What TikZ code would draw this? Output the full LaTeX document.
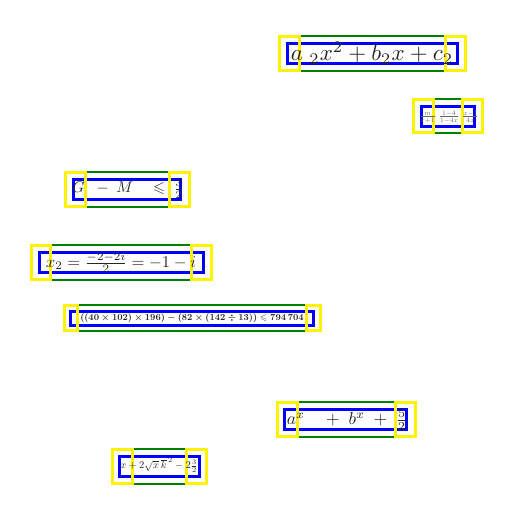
\documentclass[tikz,border=0pt]{standalone}
\usepackage{amsmath}
\usepackage{amssymb}
\tikzset{
    cajaverde/.style={draw=green!50!black,line width=2pt},
    cajaazul/.style={draw=blue,line width=2.5pt},
    cajaamarilla/.style={draw=yellow,line width=3.5pt},
    formula/.style={inner sep=0pt,text=black!85}
}
\begin{document}
\begin{tikzpicture}[x=1pt,y=-1pt]
    \useasboundingbox (0,0) rectangle (512,512);
    % Fórmula 1
    \draw[cajaverde] (299.5,36) -- (445.5,36);
    \draw[cajaverde] (299.5,71) -- (445.5,71);
    \draw[cajaazul] (287.5,43.5) rectangle (457.5,63.5);
    \draw[cajaamarilla] (279.5,36.5) rectangle (299.5,70.5);
    \draw[cajaamarilla] (445.5,36.5) rectangle (465.5,70.5);
    \node[formula,scale=2.3] (formulaA) at (372,53) {$a\;{}_2x^2+b_2x+c_2$};
    % Fórmula 2
    \draw[cajaverde] (433.5,99) -- (462.5,99);
    \draw[cajaverde] (433.5,133) -- (462.5,133);
    \draw[cajaazul] (421.5,106.5) rectangle (474.5,126.5);
    \draw[cajaamarilla] (413.5,99.5) rectangle (433.5,132.5);
    \draw[cajaamarilla] (462.5,99.5) rectangle (482.5,132.5);
    \node[formula,scale=0.95,text=black!60] (formulaB) at (449,117) {$\frac{m}{x+1}\ \frac{1-4}{1-4x}\ \frac{x-1}{4x}$};
    % Fórmula 3
    \draw[cajaverde] (85.5,172) -- (169.5,172);
    \draw[cajaverde] (85.5,207) -- (169.5,207);
    \draw[cajaazul] (73.5,179.5) rectangle (180.5,199.5);
    \draw[cajaamarilla] (65.5,172.5) rectangle (85.5,206.5);
    \draw[cajaamarilla] (169.5,172.5) rectangle (189.5,206.5);
    \node[formula,scale=1.55] (formulaC) at (128,189) {$G\;\;-\;M\quad\leqslant\;\frac{3}{2}$};
    % Fórmula 4
    \draw[cajaverde] (50.5,245) -- (191.5,245);
    \draw[cajaverde] (50.5,280) -- (191.5,280);
    \draw[cajaazul] (39.5,252.5) rectangle (203.5,272.5);
    \draw[cajaamarilla] (31.5,245.5) rectangle (50.5,279.5);
    \draw[cajaamarilla] (191.5,245.5) rectangle (211.5,279.5);
    \node[formula,scale=1.65] (formulaD) at (121,263) {$x_2=\frac{-2-2i}{2}=-1-i$};
    % Fórmula 5
    \draw[cajaverde] (77.5,305) -- (306.5,305);
    \draw[cajaverde] (77.5,331) -- (306.5,331);
    \draw[cajaazul] (70.5,311.5) rectangle (313.5,325.5);
    \draw[cajaamarilla] (64.5,305.5) rectangle (77.5,330.5);
    \draw[cajaamarilla] (306.5,305.5) rectangle (320.5,330.5);
    \node[formula,scale=0.92] (formulaE) at (192,318) {$\boldsymbol{((40\times102)\times196)-(82\times(142\div13))\leqslant794\,704}$};
    % Fórmula 6
    \draw[cajaverde] (297.5,402) -- (395.5,402);
    \draw[cajaverde] (297.5,437) -- (395.5,437);
    \draw[cajaazul] (284.5,409.5) rectangle (406.5,429.5);
    \draw[cajaamarilla] (277.5,402.5) rectangle (297.5,436.5);
    \draw[cajaamarilla] (395.5,402.5) rectangle (415.5,436.5);
    \node[formula,scale=1.75] (formulaF) at (347,420) {$a^x\quad+\;b^x\;+\;\frac{5}{2}$};
    % Fórmula 7
    \draw[cajaverde] (132.5,449) -- (186.5,449);
    \draw[cajaverde] (132.5,484) -- (186.5,484);
    \draw[cajaazul] (119.5,456.5) rectangle (199.5,476.5);
    \draw[cajaamarilla] (112.5,449.5) rectangle (132.5,483.5);
    \draw[cajaamarilla] (186.5,449.5) rectangle (206.5,483.5);
    \node[formula,scale=1.05] (formulaG) at (159,465) {$x+2\sqrt{x}\,\overline{k}^{\,2}-2\frac{3}{2}$};
\end{tikzpicture}
\end{document}
